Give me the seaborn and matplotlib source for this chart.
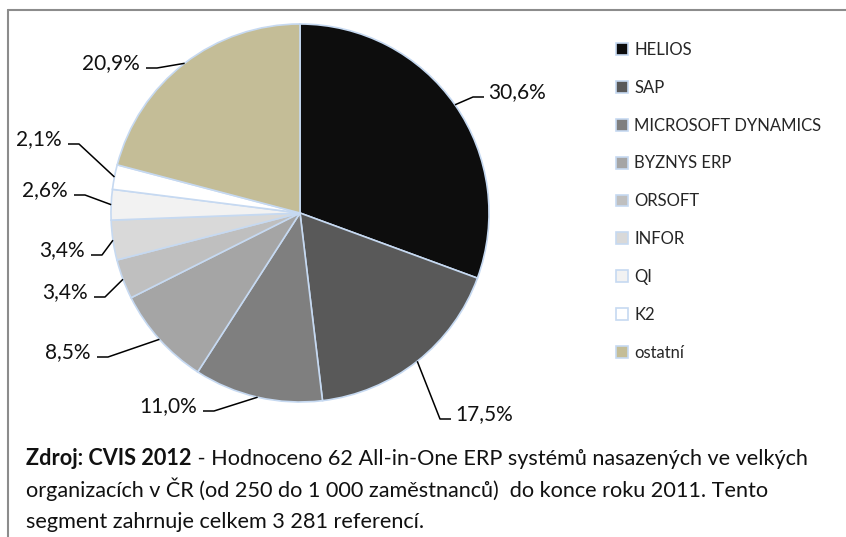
import numpy as np
import seaborn as sns
import matplotlib.pyplot as plt
from matplotlib.lines import Line2D

# data
systems = ['HELIOS', 'SAP', 'MICROSOFT DYNAMICS', 'BYZNYS ERP', 'ORSOFT',
           'INFOR', 'QI', 'K2', 'ostatní']
shares = [30.6, 17.5, 11.0, 8.5, 3.4, 3.4, 2.6, 2.1, 20.9]
pct_labels = ['30,6%', '17,5%', '11,0%', '8,5%', '3,4%', '3,4%', '2,6%', '2,1%', '20,9%']
colors = ['#0d0d0d', '#595959', '#7f7f7f', '#a5a5a5', '#bfbfbf',
          '#d9d9d9', '#f2f2f2', '#ffffff', '#c4bd97']

source = 'Zdroj: CVIS 2012'
note = [' - Hodnoceno 62 All-in-One ERP systémů nasazených ve velkých',
        'organizacích v ČR (od 250 do 1 000 zaměstnanců)  do konce roku 2011. Tento',
        'segment zahrnuje celkem 3 281 referencí.']

# layout (pixels, image coords)
W, H = 846, 537
CX, CY, R = 300, 213, 189
label_side = ['right', 'right', 'left', 'left', 'left', 'left', 'left', 'left', 'left']
label_edge = [488, 455, 197, 91, 88, 85, 68, 62, 140]
label_line_y = [97, 419, 411, 357, 297, 255, 195, 144, 68]

sns.set_theme(style='white')
plt.rcParams['font.family'] = ['Lato', 'DejaVu Sans']

fig = plt.figure(figsize=(W / 100, H / 100), dpi=100)
ax = fig.add_axes([0, 0, 1, 1])

wedges, _ = ax.pie(shares, colors=colors, center=(CX, CY), radius=R,
                   startangle=-90, counterclock=True,
                   wedgeprops=dict(edgecolor='#c6d9f1', linewidth=1.2))
ax.set_xlim(0, W)
ax.set_ylim(H, 0)
ax.set_aspect('auto')
ax.axis('off')

# percent labels with leader lines
for w, txt, side, ex, ly in zip(wedges, pct_labels, label_side, label_edge, label_line_y):
    mid = np.deg2rad((w.theta1 + w.theta2) / 2)
    ax_, ay_ = CX + R * np.cos(mid), CY + R * np.sin(mid)
    if side == 'right':
        s0, s1 = ex - 4, ex - 15
        ha = 'left'
    else:
        s0, s1 = ex + 6, ex + 17
        ha = 'right'
    ax.plot([s0, s1, ax_], [ly, ly, ay_], color='black', lw=1.1, solid_capstyle='butt')
    ax.text(ex, ly + 1, txt, ha=ha, va='baseline', fontsize=15, color='#111111')

leg = ax.legend(wedges, systems, loc='upper left', bbox_to_anchor=(616, 42),
                bbox_transform=ax.transData, frameon=False, fontsize=12,
                handlelength=0.7, handleheight=0.7, handletextpad=0.4,
                labelspacing=1.31, borderpad=0, borderaxespad=0)

# caption
fs = 15.6
t = ax.text(26, 465, source, fontsize=fs, weight='bold', va='baseline', color='#111111')
fig.canvas.draw()
bb = t.get_window_extent()
ax.text(bb.x1, 465, note[0], fontsize=fs, va='baseline', color='#111111')
ax.text(26, 497, note[1], fontsize=fs, va='baseline', color='#111111')
ax.text(26, 528, note[2], fontsize=fs, va='baseline', color='#111111')

# frame
fig.add_artist(Line2D([8 / W, 1], [1 - 10 / H, 1 - 10 / H], color='#8c8c8c', lw=1.5))
fig.add_artist(Line2D([8 / W, 8 / W], [0, 1 - 10 / H], color='#8c8c8c', lw=1.5))

fig.savefig('out.png', dpi=100)
